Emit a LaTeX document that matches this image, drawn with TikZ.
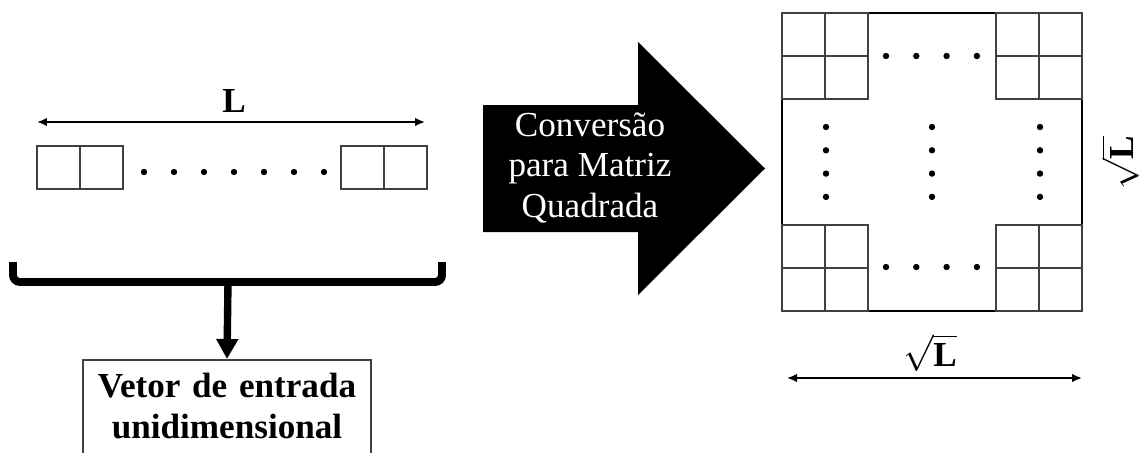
\documentclass[tikz,border=0pt]{standalone}
\usepackage{fontspec}
\setmainfont{Liberation Serif}
\usetikzlibrary{arrows.meta}
\newcommand{\drawcells}[4]{
	\foreach \i in {1,2} {
		\foreach \j in {1,...,#4} {
			\node[cell] (#1\i\j) at (#2+43*\i-21.5, #3+43*\j-21.5) {};
		}
	}
}
\newcommand{\drawdotrow}[4]{
	\foreach \k in {1,...,#4} {
		\fill (#1+#3*\k-#3, #2) circle (0.064cm);
	}
}
\newcommand{\drawdotcol}[4]{
	\foreach \k in {1,...,#4} {
		\fill (#1, #2+#3*\k-#3) circle (0.064cm);
	}
}

\begin{document}
\begin{tikzpicture}[x=0.02cm, y=-0.02cm,
	cell/.style={draw=black!75, line width=0.9pt, minimum size=0.86cm, inner sep=0pt, outer sep=0pt},
	dim/.style={<->, >={Latex[length=0.2cm,width=0.17cm]}, line width=1pt},
	txt/.style={font=\fontsize{20}{23.3}\selectfont},
	boldtxt/.style={font=\fontsize{20}{23.3}\selectfont\bfseries},
	brace/.style={line width=4.5pt, rounded corners=0.14cm},
	downarrow/.style={-{Triangle[length=0.4cm,width=0.42cm]}, line width=4.2pt}]
	\useasboundingbox (0,0) rectangle (1140,453);
	\clip (0,0) rectangle (1140,453);
	% vetor de entrada
	\coordinate (lleft) at (37,122);
	\coordinate (lright) at (425,122);
	\draw[dim] (lleft) -- (lright);
	\node[boldtxt] (lbl) at (234,101) {L};
	\drawcells{va}{37}{146}{1}
	\drawcells{vb}{341}{146}{1}
	\drawdotrow{144}{172}{30}{7}
	\draw[brace] (13,262) -- (13,282) -- (442,282) -- (442,262);
	\coordinate (bracemid) at (228,282);
	\node[boldtxt, text width=5.76cm, align=center, draw=black!75, line width=0.9pt,
		inner sep=0pt, text height=0.76cm, text depth=1.3cm, anchor=north] (vetor) at (227,359)
		{Vetor de entrada\\unidimensional};
	\draw[downarrow] (bracemid) -- (vetor.north);
	% seta de conversao
	\fill (483,105) -- (638,105) -- (638,42) -- (765,168.5) -- (638,295) -- (638,232) -- (483,232) -- cycle;
	\node[txt, text=white, align=center] (conv) at (590,168) {Conversão\\para Matriz\\Quadrada};
	% matriz quadrada
	\node[draw, line width=1pt, minimum width=6cm, minimum height=5.96cm, inner sep=0pt] (mat) at (932,162) {};
	\drawcells{tl}{782}{13}{2}
	\drawcells{tr}{996}{13}{2}
	\drawcells{bl}{782}{225}{2}
	\drawcells{br}{996}{225}{2}
	\drawdotrow{886}{56}{30.3}{4}
	\drawdotrow{886}{267}{30.3}{4}
	\drawdotcol{826}{127}{23.3}{4}
	\drawdotcol{932}{127}{23.3}{4}
	\drawdotcol{1040}{127}{23.3}{4}
	\node[txt, rotate=90] (sqright) at (1120,163) {$\sqrt{\textbf{L}}$};
	\node[txt] (sqbot) at (930,353) {$\sqrt{\textbf{L}}$};
	\coordinate (sleft) at (787,378);
	\coordinate (sright) at (1082,378);
	\draw[dim] (sleft) -- (sright);
\end{tikzpicture}
\end{document}
